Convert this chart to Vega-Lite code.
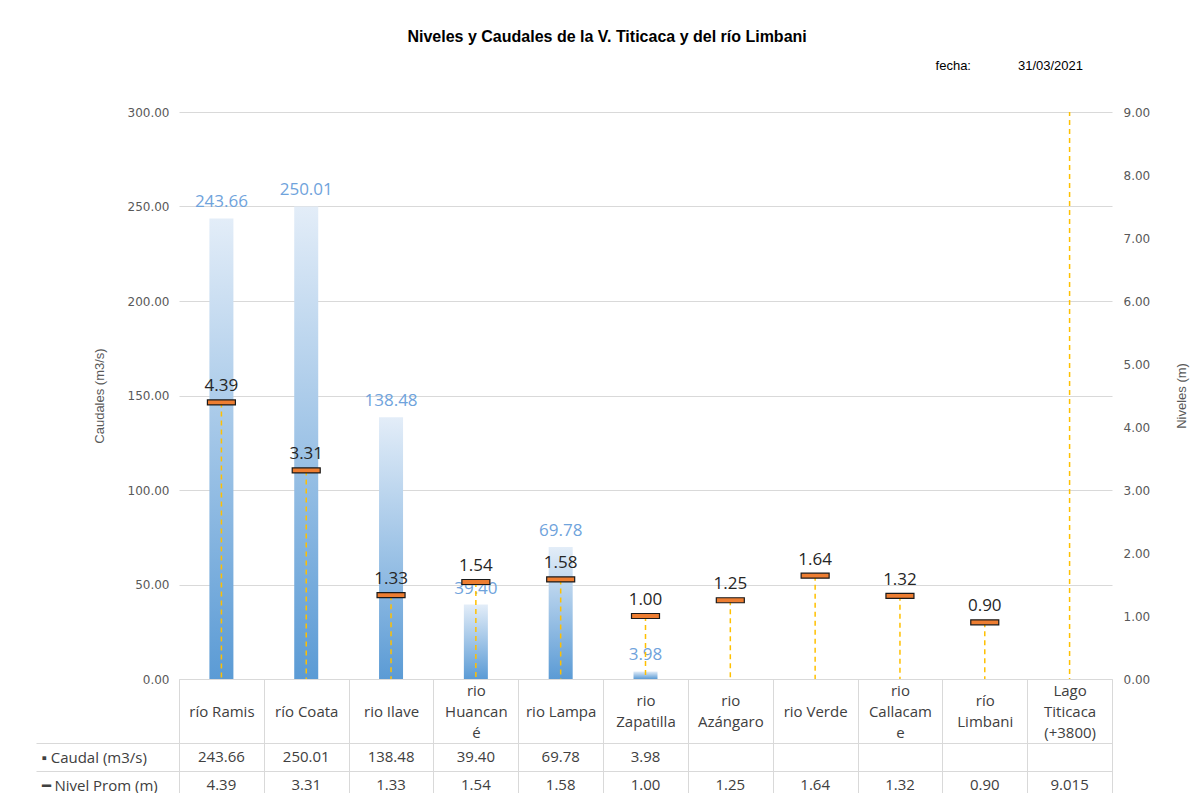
{
  "$schema": "https://vega.github.io/schema/vega-lite/v6.json",
  "background": "white",
  "padding": {"left": 5, "right": 5, "top": 29, "bottom": 0},
  "bounds": "flush",
  "title": {"text": "Niveles y Caudales de la V. Titicaca y del río Limbani", "font": "Liberation Sans", "fontSize": 16, "fontWeight": "bold", "color": "#000000", "anchor": "middle", "frame": "bounds", "dx": 10, "offset": 15},
  "config": {"view": {"stroke": null}},
  "spacing": 64,
  "data": {"values": [
    {"cat": "río Ramis", "caudal": 243.66, "nivel": 4.39},
    {"cat": "río Coata", "caudal": 250.01, "nivel": 3.31},
    {"cat": "rio Ilave", "caudal": 138.48, "nivel": 1.33},
    {"cat": "rio|Huancan|é", "caudal": 39.40, "nivel": 1.54},
    {"cat": "rio Lampa", "caudal": 69.78, "nivel": 1.58},
    {"cat": "rio|Zapatilla", "caudal": 3.98, "nivel": 1.00},
    {"cat": "rio|Azángaro", "caudal": null, "nivel": 1.25},
    {"cat": "rio Verde", "caudal": null, "nivel": 1.64},
    {"cat": "rio|Callacam|e", "caudal": null, "nivel": 1.32},
    {"cat": "río|Limbani", "caudal": null, "nivel": 0.90},
    {"cat": "Lago|Titicaca|(+3800)", "caudal": null, "nivel": 9.015}
  ]},
  "vconcat": [
    {
      "width": 933,
      "height": 567,
      "title": {"text": "fecha:\u00a0\u00a0\u00a0\u00a0\u00a0\u00a0\u00a0\u00a0\u00a0\u00a0\u00a0\u00a0 31/03/2021", "anchor": "end", "frame": "group", "dx": -29, "offset": 33, "font": "Liberation Sans", "fontSize": 13, "fontWeight": "normal", "color": "#000000"},
      "encoding": {
        "x": {"field": "cat", "type": "nominal",
          "scale": {"type": "band", "domain": ["río Ramis", "río Coata", "rio Ilave", "rio|Huancan|é", "rio Lampa", "rio|Zapatilla", "rio|Azángaro", "rio Verde", "rio|Callacam|e", "río|Limbani", "Lago|Titicaca|(+3800)"], "paddingInner": 0, "paddingOuter": 0},
          "axis": {"title": null, "labelExpr": "isValid(datum.value) ? split(datum.value, '|') : ''", "labelAngle": 0, "labelBaseline": "middle",
            "labelPadding": {"condition": [{"test": "isValid(datum.value) && length(split(datum.value, '|')) == 1", "value": -32}, {"test": "isValid(datum.value) && length(split(datum.value, '|')) == 2", "value": -42.5}], "value": -53},
            "labelOverlap": false, "tickSize": 64, "tickBand": "extent", "tickColor": "#d9d9d9", "domainColor": "#d9d9d9", "labelFont": "Open Sans", "labelFontSize": 15, "labelColor": "#404040", "labelLineHeight": 21, "minExtent": 64, "maxExtent": 64, "grid": false}}
      },
      "layer": [
        {
          "encoding": {
            "y": {"field": "caudal", "type": "quantitative", "scale": {"domain": [0, 300]},
              "axis": {"values": [0, 50, 100, 150, 200, 250, 300], "format": ".2f", "title": "Caudales (m3/s)", "grid": true, "gridColor": "#d9d9d9", "domain": false, "ticks": false, "labelPadding": 10, "labelFont": "DejaVu Sans", "labelFontSize": 12, "labelColor": "#595959", "titleFont": "Liberation Sans", "titleFontSize": 13, "titleFontWeight": "normal", "titleColor": "#595959", "titlePadding": 21}}
          },
          "layer": [
            {"mark": {"type": "bar", "size": 24, "color": {"gradient": "linear", "x1": 0, "y1": 0, "x2": 0, "y2": 1, "stops": [{"offset": 0, "color": "#e3edf8"}, {"offset": 1, "color": "#5b9bd5"}]}}},
            {"mark": {"type": "text", "dy": -16, "font": "Open Sans", "fontSize": 17, "color": "#6fa3dc"},
              "encoding": {"text": {"field": "caudal", "type": "quantitative", "format": ".2f"}}}
          ]
        },
        {
          "encoding": {
            "y": {"field": "nivel", "type": "quantitative", "scale": {"domain": [0, 9]},
              "axis": {"orient": "right", "values": [0, 1, 2, 3, 4, 5, 6, 7, 8, 9], "format": ".2f", "title": "Niveles (m)", "titleAngle": 270, "grid": false, "domain": false, "ticks": false, "labelPadding": 11, "labelFont": "DejaVu Sans", "labelFontSize": 12, "labelColor": "#595959", "titleFont": "Liberation Sans", "titleFontSize": 13, "titleFontWeight": "normal", "titleColor": "#595959", "titlePadding": 39}}
          },
          "layer": [
            {"mark": {"type": "rule", "color": "#ffc000", "strokeDash": [5, 4], "strokeWidth": 1.5, "clip": true},
              "encoding": {"y2": {"datum": 0}}},
            {"transform": [{"filter": "datum.nivel <= 9"}],
              "mark": {"type": "tick", "color": "#ed7d31", "stroke": "#1a1a1a", "strokeWidth": 1.2, "thickness": 5, "size": 28, "opacity": 1, "filled": true, "clip": true}},
            {"mark": {"type": "text", "dy": -16, "font": "Open Sans", "fontSize": 17, "color": "#262626", "clip": true},
              "encoding": {"text": {"field": "nivel", "type": "quantitative", "format": ".2f"}}}
          ]
        }
      ],
      "resolve": {"scale": {"y": "independent"}}
    },
    {
      "width": 933,
      "height": 56,
      "view": {"stroke": "#d9d9d9"},
      "transform": [
        {"fold": ["caudal", "nivel"], "as": ["row", "val"]},
        {"filter": "datum.val != null"},
        {"calculate": "abs(datum.val * 100 - round(datum.val * 100)) > 1e-6 ? format(datum.val, '.3f') : format(datum.val, '.2f')", "as": "txt"}
      ],
      "mark": {"type": "text", "font": "Open Sans", "fontSize": 15, "color": "#404040"},
      "encoding": {
        "x": {"field": "cat", "type": "nominal",
          "scale": {"type": "band", "domain": ["río Ramis", "río Coata", "rio Ilave", "rio|Huancan|é", "rio Lampa", "rio|Zapatilla", "rio|Azángaro", "rio Verde", "rio|Callacam|e", "río|Limbani", "Lago|Titicaca|(+3800)"], "paddingInner": 0, "paddingOuter": 0},
          "axis": {"title": null, "labels": false, "ticks": false, "domain": false, "grid": true, "gridColor": "#d9d9d9", "tickBand": "extent"}},
        "y": {"field": "row", "type": "nominal",
          "scale": {"type": "band", "domain": ["caudal", "nivel"], "paddingInner": 0, "paddingOuter": 0},
          "axis": {"title": null, "labelExpr": "datum.value == 'caudal' ? '▪ Caudal (m3/s)' : (datum.value == 'nivel' ? '━ Nivel Prom (m)' : '')", "labelBaseline": "middle", "grid": true, "gridColor": "#d9d9d9", "tickBand": "extent", "tickSize": 143, "tickColor": "#d9d9d9", "domain": false, "labelAlign": "left", "labelPadding": -5, "labelFont": "Open Sans", "labelFontSize": 15, "labelColor": "#404040", "minExtent": 173, "maxExtent": 173}},
        "text": {"field": "txt", "type": "nominal"}
      }
    }
  ]
}
